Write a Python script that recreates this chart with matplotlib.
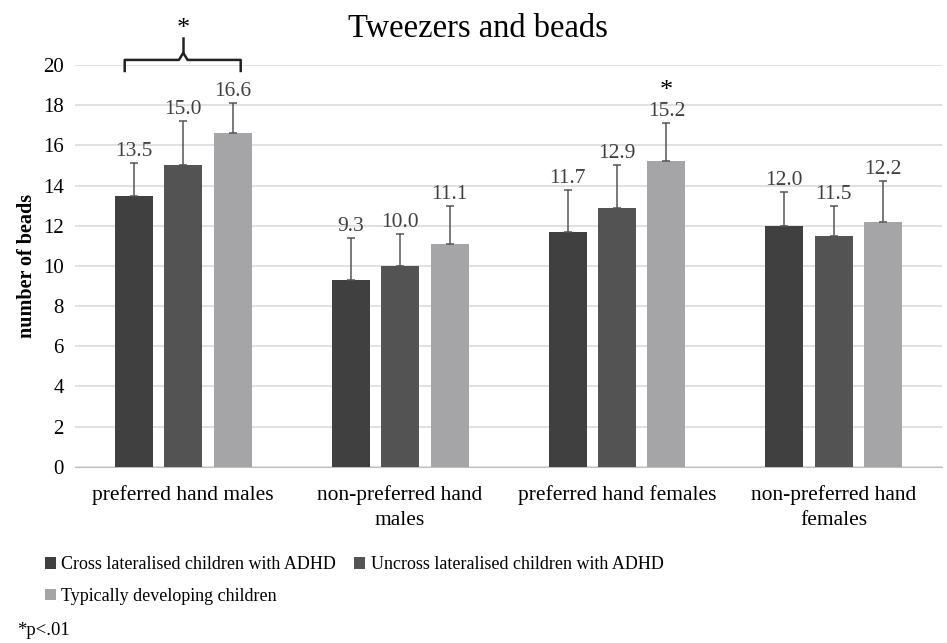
import matplotlib.pyplot as plt
import numpy as np

plt.rcParams["font.family"] = ["Liberation Serif", "DejaVu Serif"]

categories = ["preferred hand males", "non-preferred hand\nmales",
              "preferred hand females", "non-preferred hand\nfemales"]
series_names = ["Cross lateralised children with ADHD",
                "Uncross lateralised children with ADHD",
                "Typically developing children"]
cross_vals = [13.5, 9.3, 11.7, 12.0]
uncross_vals = [15.0, 10.0, 12.9, 11.5]
typical_vals = [16.6, 11.1, 15.2, 12.2]
cross_err = [1.6, 2.1, 2.1, 1.7]
uncross_err = [2.2, 1.6, 2.1, 1.5]
typical_err = [1.5, 1.9, 1.9, 2.0]
colors = ["#404040", "#535353", "#a5a5a7"]

fig = plt.figure(figsize=(9.47, 6.43), dpi=100)
ax = fig.add_axes([0.079, 0.274, 0.916, 0.625])

x = np.arange(len(categories))
width = 0.175
step = 0.228
vals = [cross_vals, uncross_vals, typical_vals]
errs = [cross_err, uncross_err, typical_err]
handles = []
for i, (v, e, c, name) in enumerate(zip(vals, errs, colors, series_names)):
    pos = x + (i - 1) * step
    h = ax.bar(pos, v, width, color=c, label=name, zorder=3)
    handles.append(h)
    ax.errorbar(pos, v, yerr=[np.zeros(len(e)), e], fmt="none", ecolor="#555555",
                elinewidth=1.1, capsize=3, capthick=1.1, zorder=4)
    for p, vv, ee in zip(pos, v, e):
        ax.text(p, vv + ee + 0.1, f"{vv:.1f}", ha="center", va="bottom",
                fontsize=15.5, color="#404040")

ax.set_xlim(-0.5, 3.5)
ax.set_ylim(0, 20)
ax.set_yticks(range(0, 21, 2))
ax.set_xticks(x)
ax.set_xticklabels(categories, fontsize=15.5, linespacing=1.45)
ax.tick_params(axis="y", labelsize=15, length=0, pad=8)
ax.tick_params(axis="x", length=0, pad=13)
ax.grid(axis="y", color="#d9d9d9", lw=1.1, zorder=0)
for s in ["top", "right", "left"]:
    ax.spines[s].set_visible(False)
ax.spines["bottom"].set_color("#bfbfbf")
ax.set_ylabel("number of beads", fontsize=14.5, fontweight="bold", labelpad=4)

fig.text(0.505, 0.955, "Tweezers and beads", ha="center", va="center", fontsize=23.5)

# significance bracket over first group
bx0, bx1 = x[0] - 0.27, x[0] + 0.265
by = 20.25
ax.plot([bx0, bx0, x[0] - 0.02, x[0], x[0] + 0.02, bx1, bx1],
        [by - 0.55, by, by, by + 0.35, by, by, by - 0.55],
        color="#222222", lw=1.8, clip_on=False)
ax.plot([x[0], x[0]], [by + 0.35, by + 1.1], color="#222222", lw=1.8, clip_on=False)
ax.text(x[0], by + 1.0, "*", ha="center", va="bottom", fontsize=19, clip_on=False)
ax.text(x[2] + step, typical_vals[2] + typical_err[2] + 1.05, "*", ha="center",
        va="bottom", fontsize=19)

order = [0, 2, 1]
fig.legend([handles[k] for k in order], [series_names[k] for k in order],
           loc="upper left", bbox_to_anchor=(0.04, 0.146), ncol=2, frameon=False,
           fontsize=13, handlelength=0.6, handleheight=0.6, handletextpad=0.3,
           columnspacing=1.0, labelspacing=0.8, borderaxespad=0)
fig.text(0.018, 0.02, "*p<.01", fontsize=13.5, ha="left", va="center")

fig.savefig("out.png", dpi=100)
